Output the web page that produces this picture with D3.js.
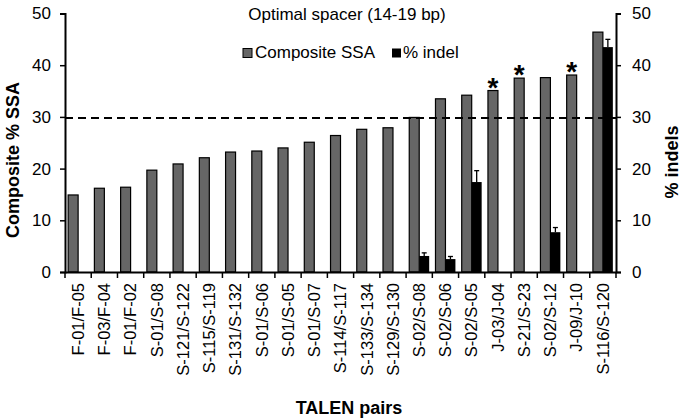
<!DOCTYPE html>
<html><head><meta charset="utf-8">
<script src="https://cdn.jsdelivr.net/npm/d3@7"></script>
<style>body{margin:0;background:#fff}svg{font-family:"Liberation Sans",Arial,sans-serif}</style>
</head><body>
<svg id="c" width="683" height="420"></svg>
<script>
const categories = ["F-01/F-05","F-03/F-04","F-01/F-02","S-01/S-08","S-121/S-122","S-115/S-119","S-131/S-132","S-01/S-06","S-01/S-05","S-01/S-07","S-114/S-117","S-133/S-134","S-129/S-130","S-02/S-08","S-02/S-06","S-02/S-05","J-03/J-04","S-21/S-23","S-02/S-12","J-09/J-10","S-116/S-120"];
const ssaValues = [14.9,16.2,16.4,19.7,20.9,22.1,23.2,23.4,24.0,25.1,26.4,27.6,27.9,29.9,33.5,34.2,35.1,37.5,37.6,38.1,46.4];
const indelValues = [0,0,0,0,0,0,0,0,0,0,0,0,0,3.1,2.5,17.4,0,0,7.7,0,43.5];
const indelErrors = [0,0,0,0,0,0,0,0,0,0,0,0,0,0.6,0.5,2.2,0,0,0.9,0,1.5];
const starred = ["J-03/J-04","S-21/S-23","J-09/J-10"];
const threshold = 29.8;
const yTicks = [0,10,20,30,40,50];

const svg = d3.select("#c");
const m = {l:65, r:67, t:13.5, b:148};
const W = 683, H = 420;
const x = d3.scaleBand().domain(categories).range([m.l, W-m.r]).paddingInner(0).paddingOuter(0);
const y = d3.scaleLinear().domain([0,50]).range([H-m.b, m.t]);
const y2 = d3.scaleLinear().domain([0,50]).range([H-m.b, m.t]);
const bw = x.bandwidth();
const barW = bw*0.38;

// grey bars
svg.append("g").selectAll("rect").data(categories).join("rect")
  .attr("x", d=>x(d)+bw*0.12).attr("width", barW)
  .attr("y", (d,i)=>y(ssaValues[i])).attr("height",(d,i)=>y(0)-y(ssaValues[i]))
  .attr("fill","#666666").attr("stroke","#000").attr("stroke-width",1.2);

// indel bars
const idx = categories.map((d,i)=>i).filter(i=>indelValues[i]>0);
svg.append("g").selectAll("rect").data(idx).join("rect")
  .attr("x", i=>x(categories[i])+bw*0.5).attr("width", barW)
  .attr("y", i=>y2(indelValues[i])).attr("height", i=>y2(0)-y2(indelValues[i]))
  .attr("fill","#000");
// error bars
const eg = svg.append("g").attr("stroke","#000").attr("stroke-width",1.3);
idx.forEach(i=>{
  const cx = x(categories[i])+bw*0.5+barW/2;
  eg.append("line").attr("x1",cx).attr("x2",cx).attr("y1",y2(indelValues[i])).attr("y2",y2(indelValues[i]+indelErrors[i]));
  eg.append("line").attr("x1",cx-2.5).attr("x2",cx+2.5).attr("y1",y2(indelValues[i]+indelErrors[i])).attr("y2",y2(indelValues[i]+indelErrors[i]));
});

// dashed threshold
svg.append("line").attr("x1",m.l).attr("x2",W-m.r).attr("y1",y(threshold)).attr("y2",y(threshold))
  .attr("stroke","#000").attr("stroke-width",2).attr("stroke-dasharray","8,5");

// stars
svg.append("g").selectAll("text").data(starred).join("text")
  .attr("x", d=>x(d)+bw*0.12+barW/2)
  .attr("y", d=>y(ssaValues[categories.indexOf(d)])+6)
  .attr("text-anchor","middle").attr("font-size",28).attr("font-weight","bold").attr("fill","#000").text("*");

// axes
const axL = svg.append("g").attr("transform",`translate(${m.l},0)`)
  .call(d3.axisLeft(y).tickValues(yTicks).tickSize(5).tickPadding(9));
const axR = svg.append("g").attr("transform",`translate(${W-m.r},0)`)
  .call(d3.axisRight(y2).tickValues(yTicks).tickSize(5).tickPadding(11));
const axB = svg.append("g").attr("transform",`translate(0,${H-m.b})`)
  .call(d3.axisBottom(x).tickSize(6).tickSizeOuter(0).tickFormat(d=>d));
axB.selectAll(".tick line").attr("transform",`translate(${-bw/2},0)`);
axB.append("line").attr("x1",W-m.r).attr("x2",W-m.r).attr("y1",0).attr("y2",6).attr("stroke","#000");
[axL,axR,axB].forEach(a=>{
  a.selectAll("path,line").attr("stroke","#000").attr("stroke-width",1.5);
  a.select(".domain").attr("stroke-width",2);
  a.selectAll("text").attr("font-size",17).attr("fill","#000").attr("font-family","Liberation Sans, Arial, sans-serif");
});
axB.selectAll("text").attr("font-size",16.5)
  .attr("transform","rotate(-90)").attr("text-anchor","end")
  .attr("x",-11).attr("y",0).attr("dy","0.35em");

// titles
svg.append("text").attr("x",347).attr("y",20).attr("text-anchor","middle").attr("font-size",17).text("Optimal spacer (14-19 bp)");
svg.append("text").attr("transform",`translate(19,160) rotate(-90)`).attr("text-anchor","middle")
  .attr("font-size",18).attr("font-weight","bold").text("Composite % SSA");
svg.append("text").attr("transform",`translate(678,162) rotate(-90)`).attr("text-anchor","middle")
  .attr("font-size",18).attr("font-weight","bold").text("% indels");
svg.append("text").attr("x",349).attr("y",414).attr("text-anchor","middle")
  .attr("font-size",18).attr("font-weight","bold").text("TALEN pairs");

// legend
const lg = svg.append("g");
lg.append("rect").attr("x",243).attr("y",48.5).attr("width",9).attr("height",9).attr("fill","#666").attr("stroke","#000");
lg.append("text").attr("x",255).attr("y",57.5).attr("font-size",17).text("Composite SSA");
lg.append("rect").attr("x",392).attr("y",48.5).attr("width",9).attr("height",9).attr("fill","#000");
lg.append("text").attr("x",403).attr("y",57.5).attr("font-size",17).text("% indel");
</script>
</body></html>
